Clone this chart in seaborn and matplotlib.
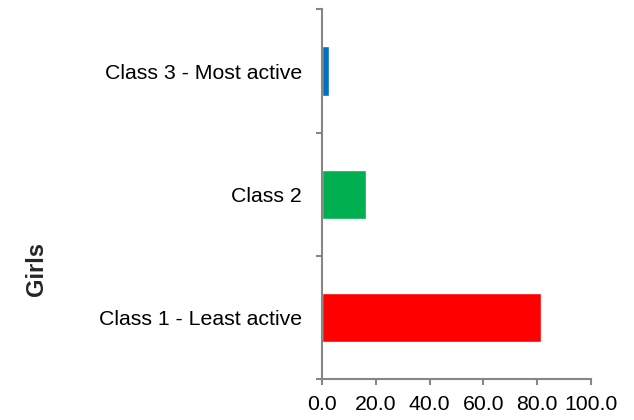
import matplotlib
matplotlib.use("Agg")
import matplotlib.pyplot as plt
import seaborn as sns
import pandas as pd

# Data (percent of girls in each activity class)
classes = ["Class 3 - Most active", "Class 2", "Class 1 - Least active"]
values = [2.6, 16.2, 81.3]
bar_colors = ["#0070C0", "#00B050", "#FF0000"]
x_ticks = [0, 20, 40, 60, 80, 100]
group_label = "Girls"

sns.set_style("white")
plt.rcParams['font.family'] = ['Liberation Sans', 'DejaVu Sans']

df = pd.DataFrame({"cls": classes, "pct": values})

fig = plt.figure(figsize=(6.34, 4.2), dpi=100)
ax = fig.add_axes([0.508, 0.0976, 0.4238, 0.880])

sns.barplot(data=df, y="cls", x="pct", hue="cls", palette=bar_colors,
            order=classes, width=0.4, saturation=1, legend=False, ax=ax)

ax.set_xlim(0, 100)
ax.set_ylim(2.5, -0.5)
ax.set_xticks(x_ticks)
ax.set_xticklabels([f"{v:.1f}" for v in x_ticks])
ax.set_xlabel("")
ax.set_ylabel("")

axis_grey = "#868686"
for side in ["top", "right"]:
    ax.spines[side].set_visible(False)
for side in ["left", "bottom"]:
    ax.spines[side].set_color(axis_grey)
    ax.spines[side].set_linewidth(1.5)

# category labels without tick marks, tick marks at category boundaries
ax.tick_params(axis="y", which="both", left=True)
ax.tick_params(axis="x", which="both", bottom=True)
ax.tick_params(axis="y", which="major", length=0, pad=14.4, labelsize=15.3, labelcolor="black")
ax.set_yticks([-0.5, 0.5, 1.5, 2.5], minor=True)
ax.tick_params(axis="y", which="minor", length=4.5, width=1.5, color=axis_grey, direction="out")
ax.tick_params(axis="x", length=4.5, width=1.5, color=axis_grey, direction="out",
               labelsize=15.3, labelcolor="black", pad=7)

fig.text(0.057, 0.36, group_label, rotation=90, fontsize=17, fontweight="bold",
         ha="center", va="center")

fig.savefig("out.png", dpi=100)
